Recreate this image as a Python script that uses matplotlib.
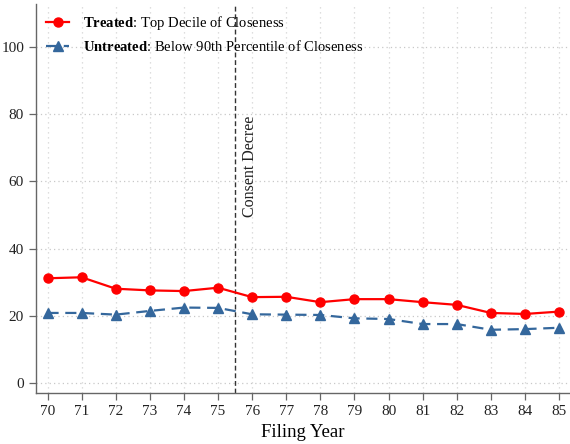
import numpy as np
import matplotlib
matplotlib.use("Agg")
import matplotlib.pyplot as plt

# --- DATA ---
years = np.arange(70, 86)
treated = [31.2, 31.5, 28.1, 27.6, 27.4, 28.4, 25.6, 25.7,
           24.1, 25.0, 25.0, 24.1, 23.3, 20.9, 20.6, 21.3]
untreated = [20.9, 20.9, 20.4, 21.5, 22.5, 22.4, 20.5, 20.4,
             20.3, 19.3, 19.1, 17.6, 17.6, 15.9, 16.1, 16.5]
y_ticks = [0, 20, 40, 60, 80, 100]
decree_year = 75.5

# --- STYLE ---
plt.rcParams['font.family'] = ['Liberation Serif', 'DejaVu Serif']
plt.rcParams['mathtext.fontset'] = 'custom'
plt.rcParams['mathtext.rm'] = 'Liberation Serif'
plt.rcParams['mathtext.bf'] = 'Liberation Serif:bold'

RED = '#FF0000'
BLUE = '#34679C'
AXIS_GRAY = '#666666'

fig = plt.figure(figsize=(5.7, 4.44), dpi=100)
ax = fig.add_axes([0.063, 0.114, 0.937, 0.877])

# grid
for yv in y_ticks:
    ax.axhline(yv, color='#c8c8c8', lw=0.9, ls=(0, (1, 2.5)), zorder=0)
for xv in years:
    ax.axvline(xv, color='#d4d4d4', lw=0.9, ls=(0, (1, 3)), zorder=0)

ax.axvline(decree_year, color='#333333', lw=1.0, ls=(0, (3.5, 2)), zorder=1)
ax.text(decree_year + 0.2, 79.5, 'Consent Decree', rotation=90,
        ha='left', va='top', fontsize=11.5, color='#222222')

ax.plot(years, treated, color=RED, lw=1.6, marker='o', ms=6.5,
        label=r'$\bf{Treated}$: Top Decile of Closeness', zorder=3)
ax.plot(years, untreated, color=BLUE, lw=1.6, ls=(0, (5, 3)), marker='^', ms=7,
        label=r'$\bf{Untreated}$: Below 90th Percentile of Closeness', zorder=3)

ax.set_xlim(69.66, 85.32)
ax.set_ylim(-3, 112.7)
ax.set_xticks(years)
ax.set_xticklabels([str(y) for y in years])
ax.set_yticks(y_ticks)
ax.set_xlabel('Filing Year', fontsize=13.5, labelpad=4)

for side in ['top', 'right']:
    ax.spines[side].set_visible(False)
for side in ['left', 'bottom']:
    ax.spines[side].set_color(AXIS_GRAY)
    ax.spines[side].set_linewidth(1.0)
ax.tick_params(axis='both', colors=AXIS_GRAY, labelcolor='#222222',
               length=5, width=0.9, labelsize=11)

leg = ax.legend(loc='upper left', frameon=False, fontsize=10.5,
                handlelength=1.6, handletextpad=0.9, labelspacing=0.5,
                borderaxespad=0.3, bbox_to_anchor=(0.0, 1.0))

fig.savefig('out.png', dpi=100)
